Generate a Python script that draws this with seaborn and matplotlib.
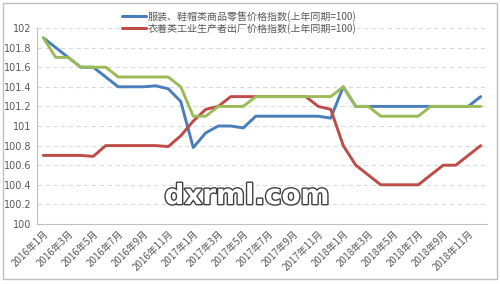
import matplotlib
matplotlib.use("Agg")
import matplotlib.pyplot as plt
import seaborn as sns
import pandas as pd
from matplotlib.lines import Line2D
from matplotlib.patches import Rectangle
import matplotlib.patheffects as pe

months = [f"{y}年{m}月" for y in (2016, 2017, 2018) for m in range(1, 13)]

retail_label = "服装、鞋帽类商品零售价格指数(上年同期=100)"
ppi_label = "衣着类工业生产者出厂价格指数(上年同期=100)"
third_label = "其他"

retail = [101.9, 101.8, 101.7, 101.6, 101.6, 101.5, 101.4, 101.4, 101.4, 101.41,
          101.38, 101.25, 100.78, 100.93, 101.0, 101.0, 100.98, 101.1, 101.1, 101.1,
          101.1, 101.1, 101.1, 101.08, 101.4, 101.2, 101.2, 101.2, 101.2, 101.2,
          101.2, 101.2, 101.2, 101.2, 101.2, 101.3]
ppi = [100.7, 100.7, 100.7, 100.7, 100.69, 100.8, 100.8, 100.8, 100.8, 100.8,
       100.79, 100.9, 101.05, 101.17, 101.2, 101.3, 101.3, 101.3, 101.3, 101.3,
       101.3, 101.3, 101.2, 101.17, 100.8, 100.6, 100.5, 100.4, 100.4, 100.4,
       100.4, 100.5, 100.6, 100.6, 100.7, 100.8]
third = [101.9, 101.7, 101.7, 101.6, 101.6, 101.6, 101.5, 101.5, 101.5, 101.5,
         101.5, 101.4, 101.1, 101.1, 101.2, 101.2, 101.2, 101.3, 101.3, 101.3,
         101.3, 101.3, 101.3, 101.3, 101.4, 101.2, 101.2, 101.1, 101.1, 101.1,
         101.1, 101.2, 101.2, 101.2, 101.2, 101.2]

y_ticks = [100, 100.2, 100.4, 100.6, 100.8, 101, 101.2, 101.4, 101.6, 101.8, 102]
y_tick_labels = ["100", "100.2", "100.4", "100.6", "100.8", "101", "101.2",
                 "101.4", "101.6", "101.8", "102"]
watermark = "dxrml.com"

colors = {retail_label: "#4A7EBB", ppi_label: "#BE4B48", third_label: "#9BBB59"}

sns.set_theme(style="white")
plt.rcParams["font.family"] = ["Noto Sans CJK SC", "DejaVu Sans"]

rows = []
for name, vals in ((retail_label, retail), (ppi_label, ppi), (third_label, third)):
    for i, v in enumerate(vals):
        rows.append({"idx": i, "value": v, "series": name})
df = pd.DataFrame(rows)

fig = plt.figure(figsize=(5.0, 2.84), dpi=100)
ax = fig.add_axes([37 / 500, 1 - 224 / 284, 450 / 500, 196 / 284])

sns.lineplot(data=df, x="idx", y="value", hue="series", palette=colors,
             hue_order=[retail_label, ppi_label, third_label],
             linewidth=2.1, legend=False, ax=ax, sort=False)

ax.set_xlim(-0.5, len(months) - 0.5)
ax.set_ylim(100, 102)
ax.set_yticks(y_ticks)
ax.set_yticklabels(y_tick_labels, fontsize=7, color="#595959", family="DejaVu Sans")
ax.set_xticks(range(0, len(months), 2))
ax.set_xticklabels(months[::2], rotation=45, ha="right", rotation_mode="anchor",
                   fontsize=7, color="#595959")
ax.set_xlabel("")
ax.set_ylabel("")
ax.tick_params(axis="y", length=0, pad=4)
ax.tick_params(axis="x", length=0, pad=3)
ax.set_xticks([k - 0.5 for k in range(0, len(months) + 1, 2)], minor=True)
ax.tick_params(axis="x", which="minor", length=4, color="#BFBFBF", width=0.8)

for y in y_ticks[1:]:
    ax.axhline(y, color="#D9D9D9", linestyle=(0, (4, 3)), linewidth=0.8, zorder=0)

for s in ("top", "right"):
    ax.spines[s].set_visible(False)
for s in ("left", "bottom"):
    ax.spines[s].set_color("#BFBFBF")
    ax.spines[s].set_linewidth(0.8)

handles = [Line2D([0], [0], color=colors[retail_label], lw=2.2),
           Line2D([0], [0], color=colors[ppi_label], lw=2.2)]
fig.legend(handles, [retail_label, ppi_label], loc="upper left",
           bbox_to_anchor=(117 / 500, 1 - 6 / 284), frameon=False, borderpad=0,
           handlelength=2.4, handletextpad=0.2, labelspacing=0.1,
           prop={"size": 7.2}, labelcolor="#595959")

fig.text(0.494, 1 - 196 / 284, watermark, ha="center", va="center", fontsize=20,
         family="DejaVu Sans", weight="bold", color="white",
         path_effects=[pe.withStroke(linewidth=2.0, foreground="#404040")])

fig.patches.append(Rectangle((3 / 500, 5 / 284), 494 / 500, 276 / 284,
                             transform=fig.transFigure, fill=False,
                             edgecolor="#BFBFBF", linewidth=1))

fig.savefig("out.png", dpi=100)
